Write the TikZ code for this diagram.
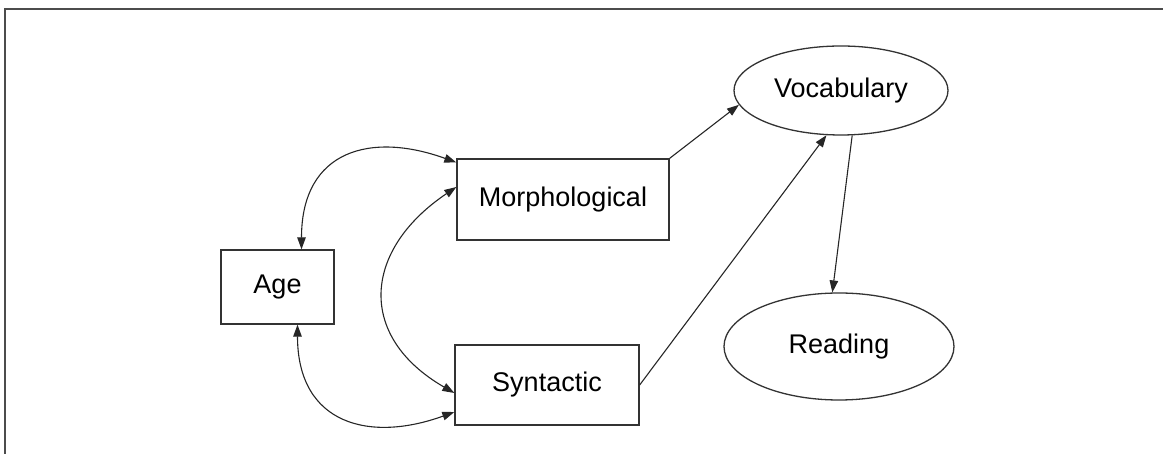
\documentclass[tikz,border=0pt]{standalone}
\usepackage{fontspec}
\setmainfont{Liberation Sans}
\usepackage{tikz}
\usetikzlibrary{arrows.meta,shapes.geometric}

\begin{document}
\begin{tikzpicture}[x=1pt,y=1pt,
    >={Triangle[length=12pt,width=8.5pt]},
    var/.style={draw=black!80,line width=1.3pt,rectangle,inner sep=0pt,font=\fontsize{27}{30}\selectfont},
    lat/.style={draw=black!80,line width=1.3pt,ellipse,inner sep=0pt,font=\fontsize{27}{30}\selectfont},
    path/.style={draw=black!85,line width=1.1pt}]
    \useasboundingbox (0,0) rectangle (1163,454);
    % frame
    \draw [black!70,line width=1.5pt](1163,445) -- (5,445) -- (5,0);
    % observed
    \node [var,minimum width=113pt,minimum height=74pt] (age) at (277.5,167) {Age};
    \node [var,minimum width=212pt,minimum height=81pt] (morph) at (563,254.5) {Morphological};
    \node [var,minimum width=184pt,minimum height=80pt] (synt) at (547,69) {Syntactic};
    % latent
    \node [lat,minimum width=214pt,minimum height=89pt] (vocab) at (841,363.5) {Vocabulary};
    \node [lat,minimum width=230pt,minimum height=107pt] (read) at (839,107.5) {Reading};
    % covariances
    \draw [path,<->]([xshift=24pt]age.north) .. controls +(90:100) and +(160:90) .. ([yshift=37pt]morph.west);
    \draw [path,<->]([xshift=20pt]age.south) .. controls +(-90:100) and +(200:90) .. ([yshift=-27pt]synt.west);
    \draw [path,<->]([yshift=12.5pt]morph.west) .. controls +(214:113) and +(150:113) .. ([yshift=-8pt]synt.west);
    % paths
    \draw [path,->](morph.north east) -- (vocab.188);
    \draw [path,->](synt.east) -- (vocab.252);
    \draw [path,->](vocab.284) -- (read.97);
\end{tikzpicture}
\end{document}
